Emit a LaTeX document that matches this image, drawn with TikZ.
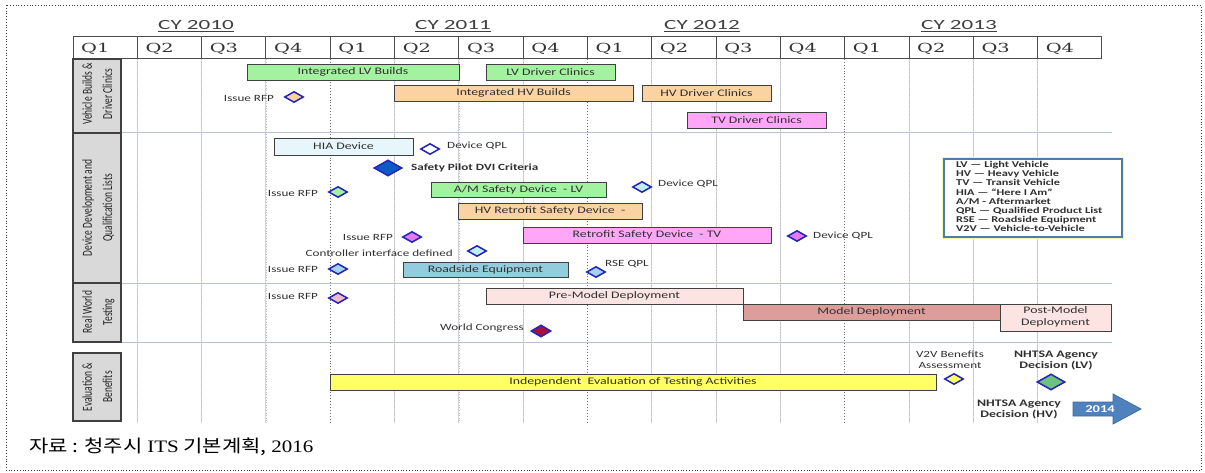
\documentclass[tikz,border=0pt]{standalone}
\usepackage{fontspec}
\usepackage{graphicx}
\setmainfont{Carlito}
\newfontfamily\cjk{Noto Sans CJK KR}
\newfontfamily\qserif{DejaVu Serif}
\newfontfamily\lserif{Liberation Serif}
\usetikzlibrary{shapes.geometric}
\newcommand{\hs}[1]{\scalebox{1.38}[1]{#1}}
\newcommand{\twol}[2]{\hs{\begin{tabular}{@{}c@{}}#1\\#2\end{tabular}}}
\newcommand{\gbar}[7]{%
  \draw[barsty, fill=#6] (#2,#3) rectangle (#4,#5);
  \node[bartext] (#1) at ({(#2+#4)/2},{(#3+#5)/2}) {#7};}
\definecolor{cgreen}{HTML}{A3F2A0}
\definecolor{corange}{HTML}{FBD3A2}
\definecolor{cpink}{HTML}{FFA6F8}
\definecolor{chia}{HTML}{E6F6FB}
\definecolor{crse}{HTML}{93CCDC}
\definecolor{cpre}{HTML}{FBE4E1}
\definecolor{cmd}{HTML}{DD9D9B}
\definecolor{cyellow}{HTML}{FFFF66}
\definecolor{cgrey}{HTML}{D9D9D9}
\definecolor{csep}{HTML}{B4C4D6}
\definecolor{cgrid}{HTML}{D0D4DA}
\definecolor{cdia}{HTML}{2424B8}
\definecolor{cblue}{HTML}{0A5CC4}
\definecolor{ccyan}{HTML}{BDEFF3}
\definecolor{clblue}{HTML}{A3D3EF}
\definecolor{cmag}{HTML}{E57AEF}
\definecolor{cdpink}{HTML}{F2BCC6}
\definecolor{cdred}{HTML}{A8123A}
\definecolor{cdgreen}{HTML}{6CC27E}
\definecolor{carrow}{HTML}{4F81BD}
\definecolor{carrowb}{HTML}{3D6DA5}
\definecolor{clegb}{HTML}{4F7DA6}
\definecolor{cglow}{HTML}{EEF5B8}
\definecolor{ctext}{HTML}{303030}
\tikzset{
  barsty/.style={draw=black!75, line width=0.9pt},
  bartext/.style={font=\fontsize{10}{12}\selectfont, text=ctext, inner sep=0pt},
  lab/.style={font=\fontsize{9.5}{11}\selectfont, text=ctext, inner sep=0pt},
  blab/.style={font=\fontsize{9.5}{11}\selectfont\bfseries, text=ctext, inner sep=0pt},
  dia/.style={diamond, draw=cdia, line width=1.5pt, inner sep=0pt, minimum width=19pt, minimum height=11pt},
  bigdia/.style={diamond, draw=cdia, line width=1.5pt, inner sep=0pt, minimum width=28pt, minimum height=16pt},
  hdr/.style={draw=black!70, line width=1pt},
  catbox/.style={draw=black!75, fill=cgrey, line width=1.2pt},
  cattext/.style={inner sep=0pt, text=black!85},
  sep/.style={draw=csep, line width=1pt},
}
\newcommand{\cat}[2]{\scalebox{1.45}[1]{\rotatebox{90}{\fontsize{9.5}{14}\selectfont\begin{tabular}{@{}c@{}}#1\\#2\end{tabular}}}}
\begin{document}
\begin{tikzpicture}[x=1pt,y=-1pt]
\useasboundingbox (0,0) rectangle (1205,473);
\fill[white] (0,0) rectangle (1205,473);
\draw[black!75, line width=0.8pt, dotted] (6,5) rectangle (1201,470);

% grid lines
\foreach \i in {1,2,3,5,6,7,9,10,11,13,14,15}{
  \draw[cgrid, line width=1pt] ({73+64.31*\i},59) -- ({73+64.31*\i},423);
  \draw[black!25, line width=0.6pt, dotted] ({73+64.31*\i},59) -- ({73+64.31*\i},423);
}
\foreach \i in {4,8,12}{
  \draw[black!55, line width=0.9pt, dotted] ({73+64.31*\i},59) -- ({73+64.31*\i},423);
}

% separators
\draw[sep] (121,133) -- (1112,133);
\draw[sep] (121,283) -- (1112,283);
\draw[sep] (121,342) -- (1112,342);

% header
\foreach \i/\q in {0/1,1/2,2/3,3/4,4/1,5/2,6/3,7/4,8/1,9/2,10/3,11/4,12/1,13/2,14/3,15/4}{
  \draw[hdr] ({73+64.31*\i},37) rectangle ({73+64.31*(\i+1)},59);
  \node[anchor=west, inner sep=0pt, text=black!80] (q\i) at ({73+64.31*\i+8},48.5) {\scalebox{1.55}[1]{\qserif\fontsize{12.5}{12.5}\selectfont Q\q}};
}
\node[text=black!75] (cy10) at (196,26) {\scalebox{1.65}[1]{\fontsize{14}{14}\selectfont\underline{CY 2010}}};
\node[text=black!75] (cy11) at (453,26) {\scalebox{1.65}[1]{\fontsize{14}{14}\selectfont\underline{CY 2011}}};
\node[text=black!75] (cy12) at (702,26) {\scalebox{1.65}[1]{\fontsize{14}{14}\selectfont\underline{CY 2012}}};
\node[text=black!75] (cy13) at (959,26) {\scalebox{1.65}[1]{\fontsize{14}{14}\selectfont\underline{CY 2013}}};

% category boxes
\draw[catbox] (73,59) rectangle (121,133);
\draw[catbox] (73,133) rectangle (121,283);
\draw[catbox] (73,283) rectangle (121,342);
\draw[catbox] (73,353) rectangle (121,421);
\node[cattext] (c1) at (98,94) {\cat{Vehicle Builds \&}{Driver Clinics}};
\node[cattext] (c2) at (98,208) {\cat{Device Development and}{Qualification Lists}};
\node[cattext] (c3) at (98,312) {\cat{Real World}{Testing}};
\node[cattext] (c4) at (98,387) {\cat{Evaluation \&}{Benefits}};

% section 1
\gbar{ilv}{247}{64}{459}{80}{cgreen}{\hs{Integrated LV Builds}}
\gbar{lvdc}{486}{64}{615}{80}{cgreen}{\hs{LV Driver Clinics}}
\gbar{ihv}{394}{85}{633}{101}{corange}{\hs{Integrated HV Builds}}
\gbar{hvdc}{642}{85}{771}{101}{corange}{\hs{HV Driver Clinics}}
\gbar{tvdc}{687}{112}{826}{128}{cpink}{\hs{TV Driver Clinics}}
\node[dia, fill=corange] (d1) at (294,97) {};
\node[lab, anchor=east] (t1) at (274,98) {\hs{Issue RFP}};

% section 2
\gbar{hia}{274}{138}{413}{155}{chia}{\hs{HIA Device}}
\node[dia, fill=white] (d2) at (430,149) {};
\node[lab, anchor=west] (t2) at (447,146) {\hs{Device QPL}};
\node[bigdia, fill=cblue] (d3) at (388,168) {};
\node[blab, anchor=west] (t3) at (411,168) {\hs{Safety Pilot DVI Criteria}};
\node[dia, fill=cgreen] (d4) at (338,192) {};
\node[lab, anchor=east] (t4) at (318,193) {\hs{Issue RFP}};
\gbar{am}{431}{182}{606}{197}{cgreen}{\hs{A/M Safety Device~ - LV}}
\node[dia, fill=ccyan] (d5) at (642,187) {};
\node[lab, anchor=west] (t5) at (658,184) {\hs{Device QPL}};
\gbar{hvr}{458}{203}{642}{219}{corange}{\hs{HV Retrofit Safety Device~ -}}
\node[dia, fill=cmag] (d6) at (412,237) {};
\node[lab, anchor=east] (t6) at (393,237) {\hs{Issue RFP}};
\gbar{rtv}{523}{227}{771}{243}{cpink}{\hs{Retrofit Safety Device~ - TV}}
\node[dia, fill=cmag] (d7) at (797,236) {};
\node[lab, anchor=west] (t7) at (813,236) {\hs{Device QPL}};
\node[dia, fill=ccyan] (d8) at (477,251) {};
\node[lab, anchor=east] (t8) at (453,253) {\hs{Controller interface defined}};
\node[dia, fill=clblue] (d9) at (338,269) {};
\node[lab, anchor=east] (t9) at (318,269) {\hs{Issue RFP}};
\gbar{rse}{403}{262}{568}{277}{crse}{\hs{Roadside Equipment}}
\node[dia, fill=clblue] (d10) at (596,272) {};
\node[lab, anchor=west] (t10) at (605,264) {\hs{RSE QPL}};

% section 3
\node[dia, fill=cdpink] (d11) at (338,298) {};
\node[lab, anchor=east] (t11) at (318,296) {\hs{Issue RFP}};
\gbar{pre}{486}{288}{743}{304}{cpre}{\hs{Pre-Model Deployment}}
\gbar{md}{743}{304}{1000}{320}{cmd}{\hs{Model Deployment}}
\gbar{post}{1000}{304}{1111}{331}{cpre}{\twol{Post-Model}{Deployment}}
\node[dia, fill=cdred, minimum width=20pt, minimum height=12pt] (d12) at (541,331) {};
\node[lab, anchor=east] (t12) at (524,328) {\hs{World Congress}};

% section 4
\gbar{iev}{330}{374}{936}{390}{cyellow}{\hs{Independent~ Evaluation of Testing Activities}}
\node[lab] (t13) at (950,361) {\twol{V2V Benefits}{Assessment}};
\node[dia, fill=cyellow] (d13) at (954,379) {};
\node[blab, font=\fontsize{10}{11}\selectfont\bfseries] (t14) at (1056,361) {\twol{NHTSA Agency}{Decision (LV)}};
\node[bigdia, fill=cdgreen] (d14) at (1051,382) {};
\node[blab, font=\fontsize{10}{11}\selectfont\bfseries] (t15) at (1019,410) {\twol{NHTSA Agency}{Decision (HV)}};
\draw[fill=carrow, draw=carrowb, line width=0.8pt] (1073,402) -- (1113,402) -- (1113,394) -- (1141,409) -- (1113,424) -- (1113,416) -- (1073,416) -- cycle;
\node[text=white, inner sep=0pt, font=\fontsize{10.5}{11}\selectfont\bfseries] (y2014) at (1100,409) {\hs{2014}};

% legend
\draw[cglow, line width=4pt] (944,159) rectangle (1122,237);
\draw[clegb, fill=white, line width=1.6pt] (944,159) rectangle (1122,237);
\node[anchor=north west, inner sep=0pt, text=ctext] (leg) at (956,161.5) {\hs{\fontsize{8.9}{9}\selectfont\bfseries\begin{tabular}{@{}l@{}}
LV — Light Vehicle\\
HV — Heavy Vehicle\\
TV — Transit Vehicle\\
HIA — “Here I Am”\\
A/M - Aftermarket\\
QPL — Qualified Product List\\
RSE — Roadside Equipment\\
V2V — Vehicle-to-Vehicle
\end{tabular}}};

% caption
\node[anchor=west, inner sep=0pt] (cap) at (29,447) {\scalebox{1.2}[1]{\cjk\fontsize{17.5}{17.5}\selectfont 자료 : 청주시 {\lserif ITS} 기본계획, {\lserif 2016}}};
\end{tikzpicture}
\end{document}
